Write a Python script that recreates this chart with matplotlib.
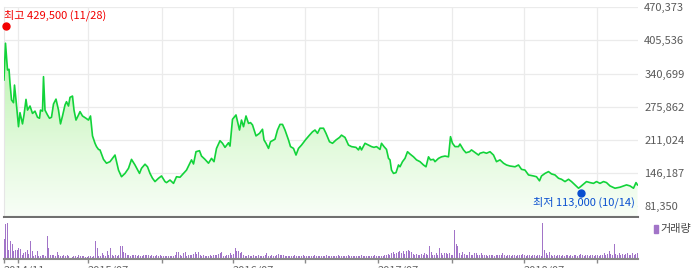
import matplotlib
matplotlib.use("Agg")
import matplotlib.pyplot as plt
import matplotlib.patches as mpatches
from matplotlib.colors import LinearSegmentedColormap
from matplotlib.transforms import offset_copy
import numpy as np

plt.rcParams['font.family'] = ['Noto Sans CJK KR', 'DejaVu Sans']

# trading-day index and closing price
price_days = [0, 3, 7, 10, 12, 15, 19, 21, 24, 29, 32, 37, 40, 44, 47, 52, 57, 62, 67, 71,
              73, 77, 79, 82, 87, 91, 95, 99, 104, 109, 113, 117, 122, 125, 129, 132, 137, 140, 144, 149,
              152, 157, 164, 169, 173, 177, 182, 185, 189, 192, 199, 205, 212, 222, 225, 229, 235, 242, 249, 255,
              262, 271, 275, 282, 287, 292, 297, 302, 309, 315, 322, 325, 332, 339, 345, 352, 359, 365, 375, 379,
              384, 391, 395, 402, 409, 415, 420, 425, 432, 437, 442, 449, 452, 457, 464, 471, 475, 479, 484, 489,
              493, 497, 504, 511, 517, 520, 524, 529, 533, 542, 547, 552, 557, 562, 569, 573, 579, 584, 589, 595,
              604, 611, 617, 622, 627, 632, 639, 644, 651, 657, 664, 671, 675, 682, 689, 695, 704, 709, 712, 715,
              722, 729, 735, 740, 745, 752, 755, 760, 765, 769, 772, 775, 779, 784, 789, 792, 797, 802, 807, 812,
              819, 825, 832, 839, 844, 849, 853, 859, 862, 869, 875, 882, 889, 893, 897, 902, 909, 912, 919, 924,
              931, 935, 942, 949, 952, 959, 965, 972, 979, 985, 992, 999, 1005, 1012, 1022, 1029, 1035, 1042, 1049, 1059,
              1065, 1071, 1075, 1082, 1089, 1095, 1102, 1109, 1115, 1122, 1129, 1135, 1142, 1149, 1153, 1159, 1165, 1172, 1179, 1185,
              1192, 1199, 1205, 1212, 1222, 1232, 1239, 1245, 1252, 1259, 1264, 1267]
prices = [328000, 400000, 347500, 349000, 322000, 289000, 283500, 318000, 289000, 236500,
          264000, 242000, 259500, 290000, 269000, 277000, 262500, 267000, 255000, 253000,
          269000, 267000, 334500, 269000, 259500, 253000, 255000, 281000, 290500, 269000,
          242000, 257500, 279000, 285500, 277000, 294000, 296500, 269000, 249500, 259500,
          266000, 257500, 253000, 249500, 257500, 218500, 204000, 197500, 192000, 191000,
          172500, 165000, 168000, 181000, 168000, 151500, 138500, 145000, 155000, 172500,
          161500, 145000, 155000, 163000, 158000, 145000, 135500, 129000, 135500, 140000,
          129000, 127000, 132000, 125500, 138500, 137500, 145000, 151500, 171500, 163500,
          187500, 189500, 179000, 172500, 165000, 174500, 168000, 194000, 209000, 204000,
          196000, 205000, 198500, 251000, 259500, 230000, 249500, 236500, 257500, 243000,
          244500, 240000, 218500, 223500, 231500, 210500, 204000, 194000, 207000, 212000,
          230000, 241000, 241000, 230000, 210500, 197500, 194000, 181000, 194000, 200500,
          212000, 220000, 226500, 230000, 223500, 233500, 233500, 223500, 207000, 204000,
          210500, 215500, 220000, 215500, 200500, 197500, 196000, 191000, 197500, 191000,
          204000, 200500, 197500, 196000, 197500, 192000, 204000, 197500, 192000, 174500,
          171500, 151500, 145000, 146500, 161500, 158000, 168000, 174500, 187500, 183000,
          177500, 171500, 168000, 161500, 158000, 177500, 171500, 172500, 168000, 174500,
          177500, 179000, 177500, 217000, 204000, 197500, 197500, 202500, 191000, 185500,
          187500, 191000, 186000, 181000, 184500, 186500, 184500, 187500, 181000, 168000,
          171500, 165000, 161500, 159500, 158000, 161500, 153000, 151500, 142000, 140000,
          138500, 130500, 140000, 145000, 148500, 144000, 142000, 135500, 133500, 129000,
          133500, 129000, 122500, 116000, 119000, 124000, 129000, 127000, 125500, 129000,
          125500, 129000, 127000, 120500, 116000, 118000, 120500, 122500, 120500, 116000,
          127000, 122500]

volumes = [20, 35, 36, 9, 18, 15, 8, 9, 9, 11, 10, 4, 6, 7, 9, 5, 18, 8, 3, 4,
           8, 3, 3, 4, 4, 3, 23, 11, 4, 4, 4, 3, 7, 4, 3, 3, 4, 3, 4, 3,
           1, 2, 3, 3, 2, 4, 3, 3, 3, 2, 2, 3, 3, 2, 3, 18, 11, 3, 3, 6,
           4, 3, 8, 4, 11, 4, 3, 4, 3, 4, 13, 13, 7, 6, 4, 4, 3, 4, 4, 4,
           3, 4, 3, 3, 4, 4, 4, 4, 3, 4, 3, 3, 4, 3, 4, 3, 3, 3, 3, 3,
           3, 3, 3, 4, 7, 7, 4, 3, 6, 7, 3, 4, 4, 4, 5, 7, 5, 7, 4, 3,
           4, 3, 3, 3, 4, 3, 4, 4, 4, 5, 6, 7, 3, 3, 4, 4, 6, 4, 5, 11,
           8, 8, 6, 7,
           4, 3, 3, 4, 3, 3, 4, 3, 3, 4, 3, 3, 3, 4, 6,
           3, 3, 4, 3, 3, 4, 5, 4, 4, 4, 3, 3, 3, 3,
           3, 3, 4, 3, 3, 3, 3, 4, 3, 3, 3, 3, 3, 3, 4, 3, 3, 3, 3, 3,
           3, 4, 3, 3, 3, 3, 3, 3, 4, 3, 3, 3, 3, 3, 4, 3, 3, 3, 3, 3,
           3, 3, 4, 3, 3, 3, 3, 3, 3, 3, 4, 3, 3, 3, 3, 3,
           4, 4, 5, 4, 6, 7, 5, 6, 7, 8, 6, 8, 5, 8, 9, 8, 7, 5,
           4, 5, 4, 4, 5, 4, 6, 5, 4, 13, 7, 4, 4, 6, 4, 11, 6, 4, 6, 6, 5, 6, 4, 4,
           29, 15, 13, 6, 4, 7, 5, 4, 4, 7, 4, 4, 6, 6, 4, 4, 6, 4,
           4, 4, 3, 4, 4, 4, 3, 4, 4, 4, 4,
           6, 4, 3, 4, 4, 3, 4, 4, 3, 4, 4, 4,
           5, 4, 3, 4, 4, 3, 4, 4, 3, 4, 4, 3,
           36, 9, 6, 4, 7, 4,
           3, 4, 3, 4, 4, 3, 4, 3, 4, 4, 3, 4, 3, 4, 4, 3, 4,
           5, 4, 3, 4, 4, 3, 4, 4, 3, 4, 4, 3, 4,
           4, 6, 4, 5, 8, 5, 4, 15, 5, 4, 6, 4, 5, 4, 5, 6, 4, 4, 6, 4, 5, 6]

high_day, high_price, high_date = 3, 429500, "11/28"
low_day, low_price, low_date = 1153, 113000, "10/14"

price_ticks = [81350, 146187, 211024, 275862, 340699, 405536, 470373]
grid_days = [28, 168, 316, 458, 602, 748, 896, 1040, 1186]
label_days = [0, 168, 458, 748, 1040]
date_labels = ["2014/11", "2015/07", "2016/07", "2017/07", "2018/07"]

W, H = 694, 268
fig = plt.figure(figsize=(W / 100, H / 100), dpi=100, facecolor="white")

# ── price panel ─────────────────────────────────────────
ax = fig.add_axes([4 / W, (H - 216.5) / H, 634 / W, 209.2 / H])
ymin, ymax = 60600, 470373
ax.set_xlim(0, 1268)
ax.set_ylim(ymin, ymax)

cmap = LinearSegmentedColormap.from_list(
    "g", ["#f8fef7", "#e2fadc", "#c6f5bc", "#b2f0a6"])
grad = np.linspace(0, 1, 256).reshape(-1, 1)
img = ax.imshow(grad, cmap=cmap, origin="lower", aspect="auto",
                extent=[0, 1268, ymin, ymax], zorder=1)
poly = ax.fill_between(price_days, prices, ymin, facecolor="none",
                       edgecolor="none")
img.set_clip_path(poly.get_paths()[0], ax.transData)

ax.plot(price_days, prices, color="#12d33a", lw=1.2, zorder=3)

ax.set_yticks(price_ticks)
ax.set_yticklabels([f"{v:,}" for v in price_ticks])
ax.yaxis.tick_right()
ax.tick_params(axis="y", length=0, pad=4.5, labelsize=8, labelcolor="#5a5a5a")
ax.set_xticks(grid_days)
ax.tick_params(axis="x", length=0, labelbottom=False)
ax.grid(True, color="#ebebeb", lw=0.9, zorder=0)
ax.set_axisbelow(True)
for s in ["top", "right"]:
    ax.spines[s].set_visible(False)
ax.spines["left"].set_color("#e6e6e6")
ax.spines["bottom"].set_color("#707070")
ax.spines["bottom"].set_linewidth(1.5)

# high / low markers
hi_tr = offset_copy(ax.transData, fig=fig, y=2.5, units="dots")
ax.plot(high_day, high_price, "o", color="#f20000", ms=5, transform=hi_tr,
        zorder=5, clip_on=False)
ax.annotate(f"최고 {high_price:,} ({high_date})", xy=(high_day, high_price),
            xytext=(-1, 13), textcoords="offset pixels", ha="left",
            va="center", color="#f20000", fontsize=8, annotation_clip=False)
lo_tr = offset_copy(ax.transData, fig=fig, y=-3.5, units="dots")
ax.plot(low_day, low_price, "o", color="#0a4fd0", ms=5, transform=lo_tr,
        zorder=5)
ax.annotate(f"최저 {low_price:,} ({low_date})", xy=(low_day, low_price),
            xytext=(54, -13), textcoords="offset pixels", ha="right",
            va="center", color="#0a4fd0", fontsize=8)

# ── volume panel ────────────────────────────────────────
vax = fig.add_axes([4 / W, (H - 259.3) / H, 634 / W, 41.8 / H])
vol_x = np.linspace(0, price_days[-1], len(volumes))
vax.bar(vol_x, volumes, width=2.0, color="#a274c8", linewidth=0)
vax.set_xlim(0, 1268)
vax.set_ylim(0, 41.8)
vax.set_yticks([])
ticks = sorted(set([0] + grid_days))
vax.set_xticks(ticks)
vax.set_xticklabels([date_labels[label_days.index(t)] if t in label_days else ""
                     for t in ticks], ha="left")
vax.tick_params(axis="x", length=3, width=1, color="#8a8a8a", pad=1.5,
                labelsize=8, labelcolor="#666666")
for s in ["top", "right", "left"]:
    vax.spines[s].set_visible(False)
vax.spines["bottom"].set_color("#8a8a8a")
vax.spines["bottom"].set_linewidth(1.5)

# legend
fig.patches.append(mpatches.Rectangle((654 / W, (H - 233) / H), 4 / W, 8 / H,
                                      transform=fig.transFigure,
                                      color="#a274c8"))
fig.text(660 / W, (H - 229) / H, "거래량", fontsize=8, color="#444444",
         va="center", ha="left")

fig.savefig("out.png", dpi=100)
